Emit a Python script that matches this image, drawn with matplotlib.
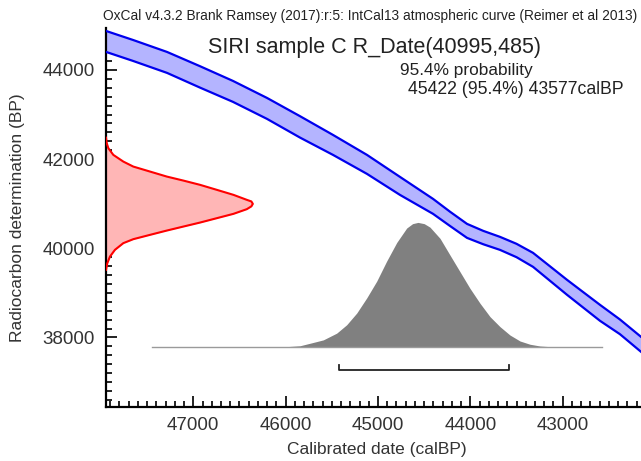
import numpy as np
import matplotlib
matplotlib.use("Agg")
import matplotlib.pyplot as plt
from matplotlib.ticker import MultipleLocator

plt.rcParams['font.family'] = ['Liberation Sans', 'DejaVu Sans']

# calibration curve (IntCal13 section)
cal_bp = [47945, 47653, 47284, 46927, 46570, 46202, 45844, 45487, 45119,
          44762, 44404, 44220, 44036, 43860, 43679, 43500, 43321, 42953, 42596,
          42380, 42152, 42000]
c14_age = [44639, 44437, 44168, 43843, 43518, 43137, 42722, 42318, 41881,
           41399, 40940, 40660, 40390, 40240, 40110, 39950, 39740, 39124, 38552,
           38238, 37846, 37585]
c14_err = [235, 235, 235, 240, 235, 235, 240, 224, 213,
           202, 168, 160, 157, 150, 146, 150, 157, 168, 179,
           165, 168, 168]

# radiocarbon measurement R_Date(40995,485)
r_mean = 40995
r_sd = 485
r_age = [39516, 39666, 39814, 39965, 40115, 40204, 40301, 40397, 40487, 40577, 40675,
         40772, 40877, 40940, 40996, 41050, 41086, 41198, 41310, 41422, 41518, 41608,
         41720, 41832, 41944, 42094, 42244, 42357, 42480]
r_prob = [0.0, 0.009, 0.027, 0.061, 0.118, 0.186, 0.30, 0.414, 0.527, 0.641, 0.755,
          0.868, 0.959, 0.99, 1.0, 0.99, 0.959, 0.868, 0.755, 0.641, 0.527, 0.414,
          0.30, 0.186, 0.118, 0.05, 0.016, 0.005, 0.0]

# calibrated distribution
cal_x = [47450, 46300, 46169, 46007, 45844, 45736, 45592, 45447, 45339, 45230, 45122,
         45014, 44906, 44797, 44689, 44625, 44567, 44500, 44437, 44328, 44220, 44112,
         44004, 43895, 43787, 43679, 43571, 43462, 43354, 43246, 43105, 42900, 42578]
cal_prob = [0.0, 0.0, 0.0015, 0.004, 0.012, 0.032, 0.059, 0.113, 0.18, 0.274, 0.395,
            0.529, 0.69, 0.839, 0.955, 0.99, 1.0, 0.99, 0.962, 0.872, 0.738, 0.605,
            0.472, 0.352, 0.245, 0.165, 0.098, 0.05, 0.024, 0.01, 0.003, 0.001, 0.0]

# 95.4% range
range_from = 45422
range_to = 43577
range_pct = 95.4

xlim = (47945, 42152)
ylim = (36440, 44940)

fig = plt.figure(figsize=(6.41, 4.61), dpi=100)
ax = fig.add_axes([106/641, 1 - 407/461, 1 - 106/641, (407 - 28)/461])

# calibration band
cal_bp = np.array(cal_bp)
mid = np.array(c14_age)
err = np.array(c14_err)
ax.fill_between(cal_bp, mid - err, mid + err, color='#b4b4ff', lw=0, zorder=2)
ax.plot(cal_bp, mid + err, color='#0000ee', lw=1.6, zorder=3, solid_joinstyle='round')
ax.plot(cal_bp, mid - err, color='#0000ee', lw=1.6, zorder=3, solid_joinstyle='round')

# radiocarbon date along y axis
r_height = 1590
rx = xlim[0] - np.array(r_prob) * r_height
ax.fill_betweenx(r_age, xlim[0], rx, color='#ffb6b6', lw=0, zorder=2)
ax.plot(rx, r_age, color='#ff0000', lw=1.5, zorder=3, solid_joinstyle='round')

# calibrated date
base = 37780
c_height = 2800
cy = base + np.array(cal_prob) * c_height
ax.fill_between(cal_x, base, cy, color='#808080', lw=0, zorder=2)
ax.plot([cal_x[0], cal_x[-1]], [base, base], color='#9a9a9a', lw=1, zorder=2)

# range bracket
by = base - 520
ax.plot([range_from, range_from, range_to, range_to],
        [by + 125, by, by, by + 125], color='#222222', lw=1.3, zorder=3)

ax.set_xlim(*xlim)
ax.set_ylim(*ylim)
ax.spines['top'].set_visible(False)
ax.spines['right'].set_visible(False)
for s in ['left', 'bottom']:
    ax.spines[s].set_linewidth(1.6)
ax.xaxis.set_major_locator(MultipleLocator(1000))
ax.xaxis.set_minor_locator(MultipleLocator(100))
ax.yaxis.set_major_locator(MultipleLocator(2000))
ax.yaxis.set_minor_locator(MultipleLocator(200))
ax.tick_params(which='both', direction='in', width=1.3, colors='#111111',
               labelcolor='#333333', labelsize=13.5)
ax.tick_params(which='major', length=8)
ax.tick_params(which='minor', length=4)
ax.tick_params(axis='y', pad=8)
ax.tick_params(axis='x', pad=7)

fig.text(18/641, 1 - 218/461, 'Radiocarbon determination (BP)', rotation=90,
         ha='center', va='center', fontsize=12.5, color='#333333')
fig.text(377/641, 1 - 449/461, 'Calibrated date (calBP)',
         ha='center', va='center', fontsize=12.5, color='#333333')

fig.text(370/641, 1 - 16/461,
         'OxCal v4.3.2 Brank Ramsey (2017):r:5: IntCal13 atmospheric curve (Reimer et al 2013)',
         ha='center', va='center', fontsize=9.9, color='#222222')
fig.text(375/641, 1 - 47/461, f'SIRI sample C R_Date({r_mean},{r_sd})',
         ha='center', va='center', fontsize=15.5, color='#222222')
fig.text(466/641, 1 - 70/461, f'{range_pct}% probability',
         ha='center', va='center', fontsize=12.4, color='#222222')
fig.text(516/641, 1 - 90/461, f'{range_from} ({range_pct}%) {range_to}calBP',
         ha='center', va='center', fontsize=12.7, color='#222222')

fig.savefig('out.png', dpi=100)
